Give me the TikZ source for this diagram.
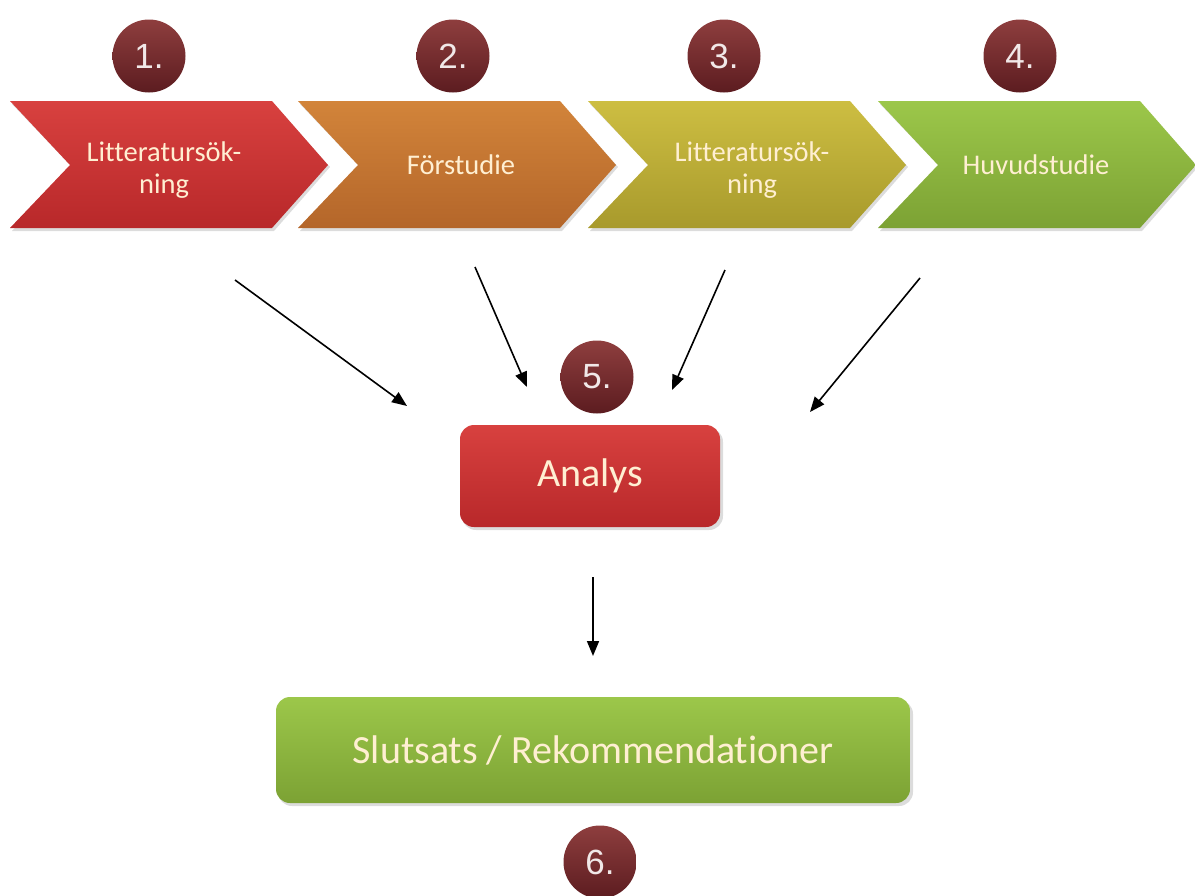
\documentclass[tikz,border=0pt]{standalone}
\usepackage{fontspec}
\setmainfont{Carlito}[Ligatures=NoCommon]
\newfontfamily\numfont{Liberation Sans}
\usetikzlibrary{arrows.meta}

\definecolor{redT}{HTML}{D8413F}
\definecolor{redB}{HTML}{B8282A}
\definecolor{orgT}{HTML}{D2843A}
\definecolor{orgB}{HTML}{B4662A}
\definecolor{olvT}{HTML}{CDBE42}
\definecolor{olvB}{HTML}{A89A2C}
\definecolor{grnT}{HTML}{9CC74A}
\definecolor{grnB}{HTML}{7CA234}
\definecolor{ballT}{HTML}{8E3E3E}
\definecolor{ballB}{HTML}{5C1C20}
\definecolor{txtC}{HTML}{FFEFD2}
\definecolor{shadowC}{HTML}{9A9A9A}

\tikzset{
  steplabel/.style={font=\fontsize{28.5}{32}\selectfont, text=txtC, align=center},
  boxlabel/.style={font=\fontsize{40}{44}\selectfont, text=txtC},
  ball/.style={circle, minimum size=73pt, inner sep=0pt, top color=ballT, bottom color=ballB,
    font=\numfont\fontsize{35}{35}\selectfont, text=white!88!ballT},
  flow/.style={-{Triangle[length=15pt,width=12pt]}, line width=1.6pt, black},
  softshadow/.style={fill=shadowC, opacity=0.35},
}

\begin{document}
\begin{tikzpicture}[x=1pt,y=-1pt]
\useasboundingbox (0,0) rectangle (1195,895);

% process chevrons
\foreach \L/\ct/\cb in {10/redT/redB, 298/orgT/orgB, 588/olvT/olvB, 878/grnT/grnB}{
  \fill[softshadow] (\L+2,104) -- (\L+264,104) -- (\L+320,167) -- (\L+264,231) -- (\L+2,231) -- (\L+62,167) -- cycle;
  \shade[top color=\ct, bottom color=\cb]
    (\L,101) -- (\L+262,101) -- (\L+318,165) -- (\L+262,228) -- (\L,228) -- (\L+60,165) -- cycle;
}

\node[steplabel] (s1) at (164,170) {Litteratursök-\\ning};
\node[steplabel] (s2) at (461,165) {Förstudie};
\node[steplabel] (s3) at (752,170) {Litteratursök-\\ning};
\node[steplabel] (s4) at (1036,165) {Huvudstudie};

% step numbers
\node[ball] (n1) at (149,56) {1.};
\node[ball] (n2) at (453,56) {2.};
\node[ball] (n3) at (724,56) {3.};
\node[ball] (n4) at (1020,56) {4.};

% analysis box
\fill[softshadow, rounded corners=14pt] (462,428) rectangle (723,530);
\shade[top color=redT, bottom color=redB, rounded corners=14pt] (460,425) rectangle (720,527);
\node[boxlabel] (analys) at (590,476) {Analys};
\node[ball] (n5) at (597,377) {5.};

% conclusion box
\fill[softshadow, rounded corners=14pt] (278,700) rectangle (913,806);
\shade[top color=grnT, bottom color=grnB, rounded corners=14pt] (276,697) rectangle (910,803);
\node[boxlabel] (slut) at (593,750) {Slutsats / Rekommendationer};
\node[ball] (n6) at (600,862) {6.};

% connector end points
\coordinate (a1) at (235,280);  \coordinate (b1) at (407,406);
\coordinate (a2) at (475,267);  \coordinate (b2) at (527,387);
\coordinate (a3) at (725,270);  \coordinate (b3) at (672,390);
\coordinate (a4) at (920,278);  \coordinate (b4) at (810,412);
\coordinate (a5) at (593,577);  \coordinate (b5) at (593,656);

\draw[flow] (a1) -- (b1);
\draw[flow] (a2) -- (b2);
\draw[flow] (a3) -- (b3);
\draw[flow] (a4) -- (b4);
\draw[flow] (a5) -- (b5);
\end{tikzpicture}
\end{document}
